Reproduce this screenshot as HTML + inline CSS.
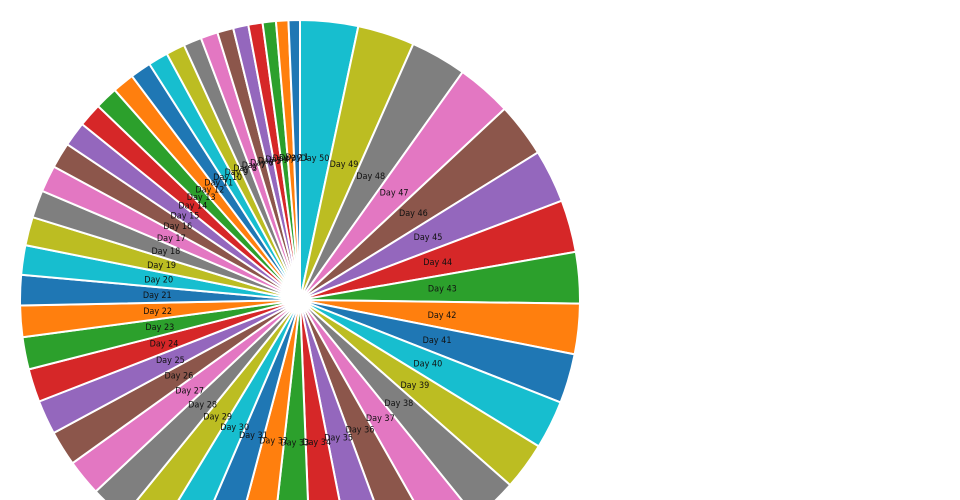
<!DOCTYPE html>
<html><head><meta charset="utf-8"><style>
html,body{margin:0;padding:0;background:#fff;width:960px;height:500px;overflow:hidden;}
svg{display:block;overflow:hidden;}
text{font-family:"DejaVu Sans","Liberation Sans",sans-serif;font-size:9px;font-stretch:condensed;fill:#111;}
</style></head><body>
<svg id="chart" width="960" height="500" viewBox="0 0 960 500" xmlns="http://www.w3.org/2000/svg"></svg>
<script>
const days = [];
for (let d = 1; d <= 50; d++) days.push('Day ' + d);
const values = [12,13,14,15,16,17,18,19,20,21,22,23,24,25,26,27,28,29,30,31,32,33,34,35,36,37,38,39,40,41,42,43,44,45,46,47,48,49,50,51,52,53,54,55,56,57,58,59,60,61];
const colors = ['#1f77b4','#ff7f0e','#2ca02c','#d62728','#9467bd','#8c564b','#e377c2','#7f7f7f','#bcbd22','#17becf'];

const svg = document.getElementById('chart');
const NS = 'http://www.w3.org/2000/svg';
const cx = 300, cy = 300, R = 280;
const total = values.reduce((a,b)=>a+b,0);
function pt(a, r){ return [cx + r*Math.sin(a), cy - r*Math.cos(a)]; }
let start = 0;
const order = [];
for (let i = values.length-1; i >= 0; i--) order.push(i);
const gSl = document.createElementNS(NS,'g');


const gLb = document.createElementNS(NS,'g');


svg.appendChild(gSl); svg.appendChild(gLb);
order.forEach(i => {
  const sweep = values[i]/total*2*Math.PI;
  const a0 = start, a1 = start + sweep;
  const p0 = pt(a0,R), p1 = pt(a1,R);
  const path = document.createElementNS(NS,'path');
  path.setAttribute('d', `M${cx},${cy} L${p0[0]},${p0[1]} A${R},${R} 0 ${sweep>Math.PI?1:0} 1 ${p1[0]},${p1[1]} Z`);
  path.setAttribute('fill', colors[i%10]);
  path.setAttribute('stroke','#fff');
  path.setAttribute('stroke-width','2');
  
  
  gSl.appendChild(path);
  const m = (a0+a1)/2;
  const lp = pt(m, R*0.51);
  const t = document.createElementNS(NS,'text');
  t.setAttribute('x', lp[0]); t.setAttribute('y', lp[1]+3);
  t.setAttribute('text-anchor','middle');
  t.textContent = days[i];
  
  
  gLb.appendChild(t);
  start = a1;
});
</script>
</body></html>
